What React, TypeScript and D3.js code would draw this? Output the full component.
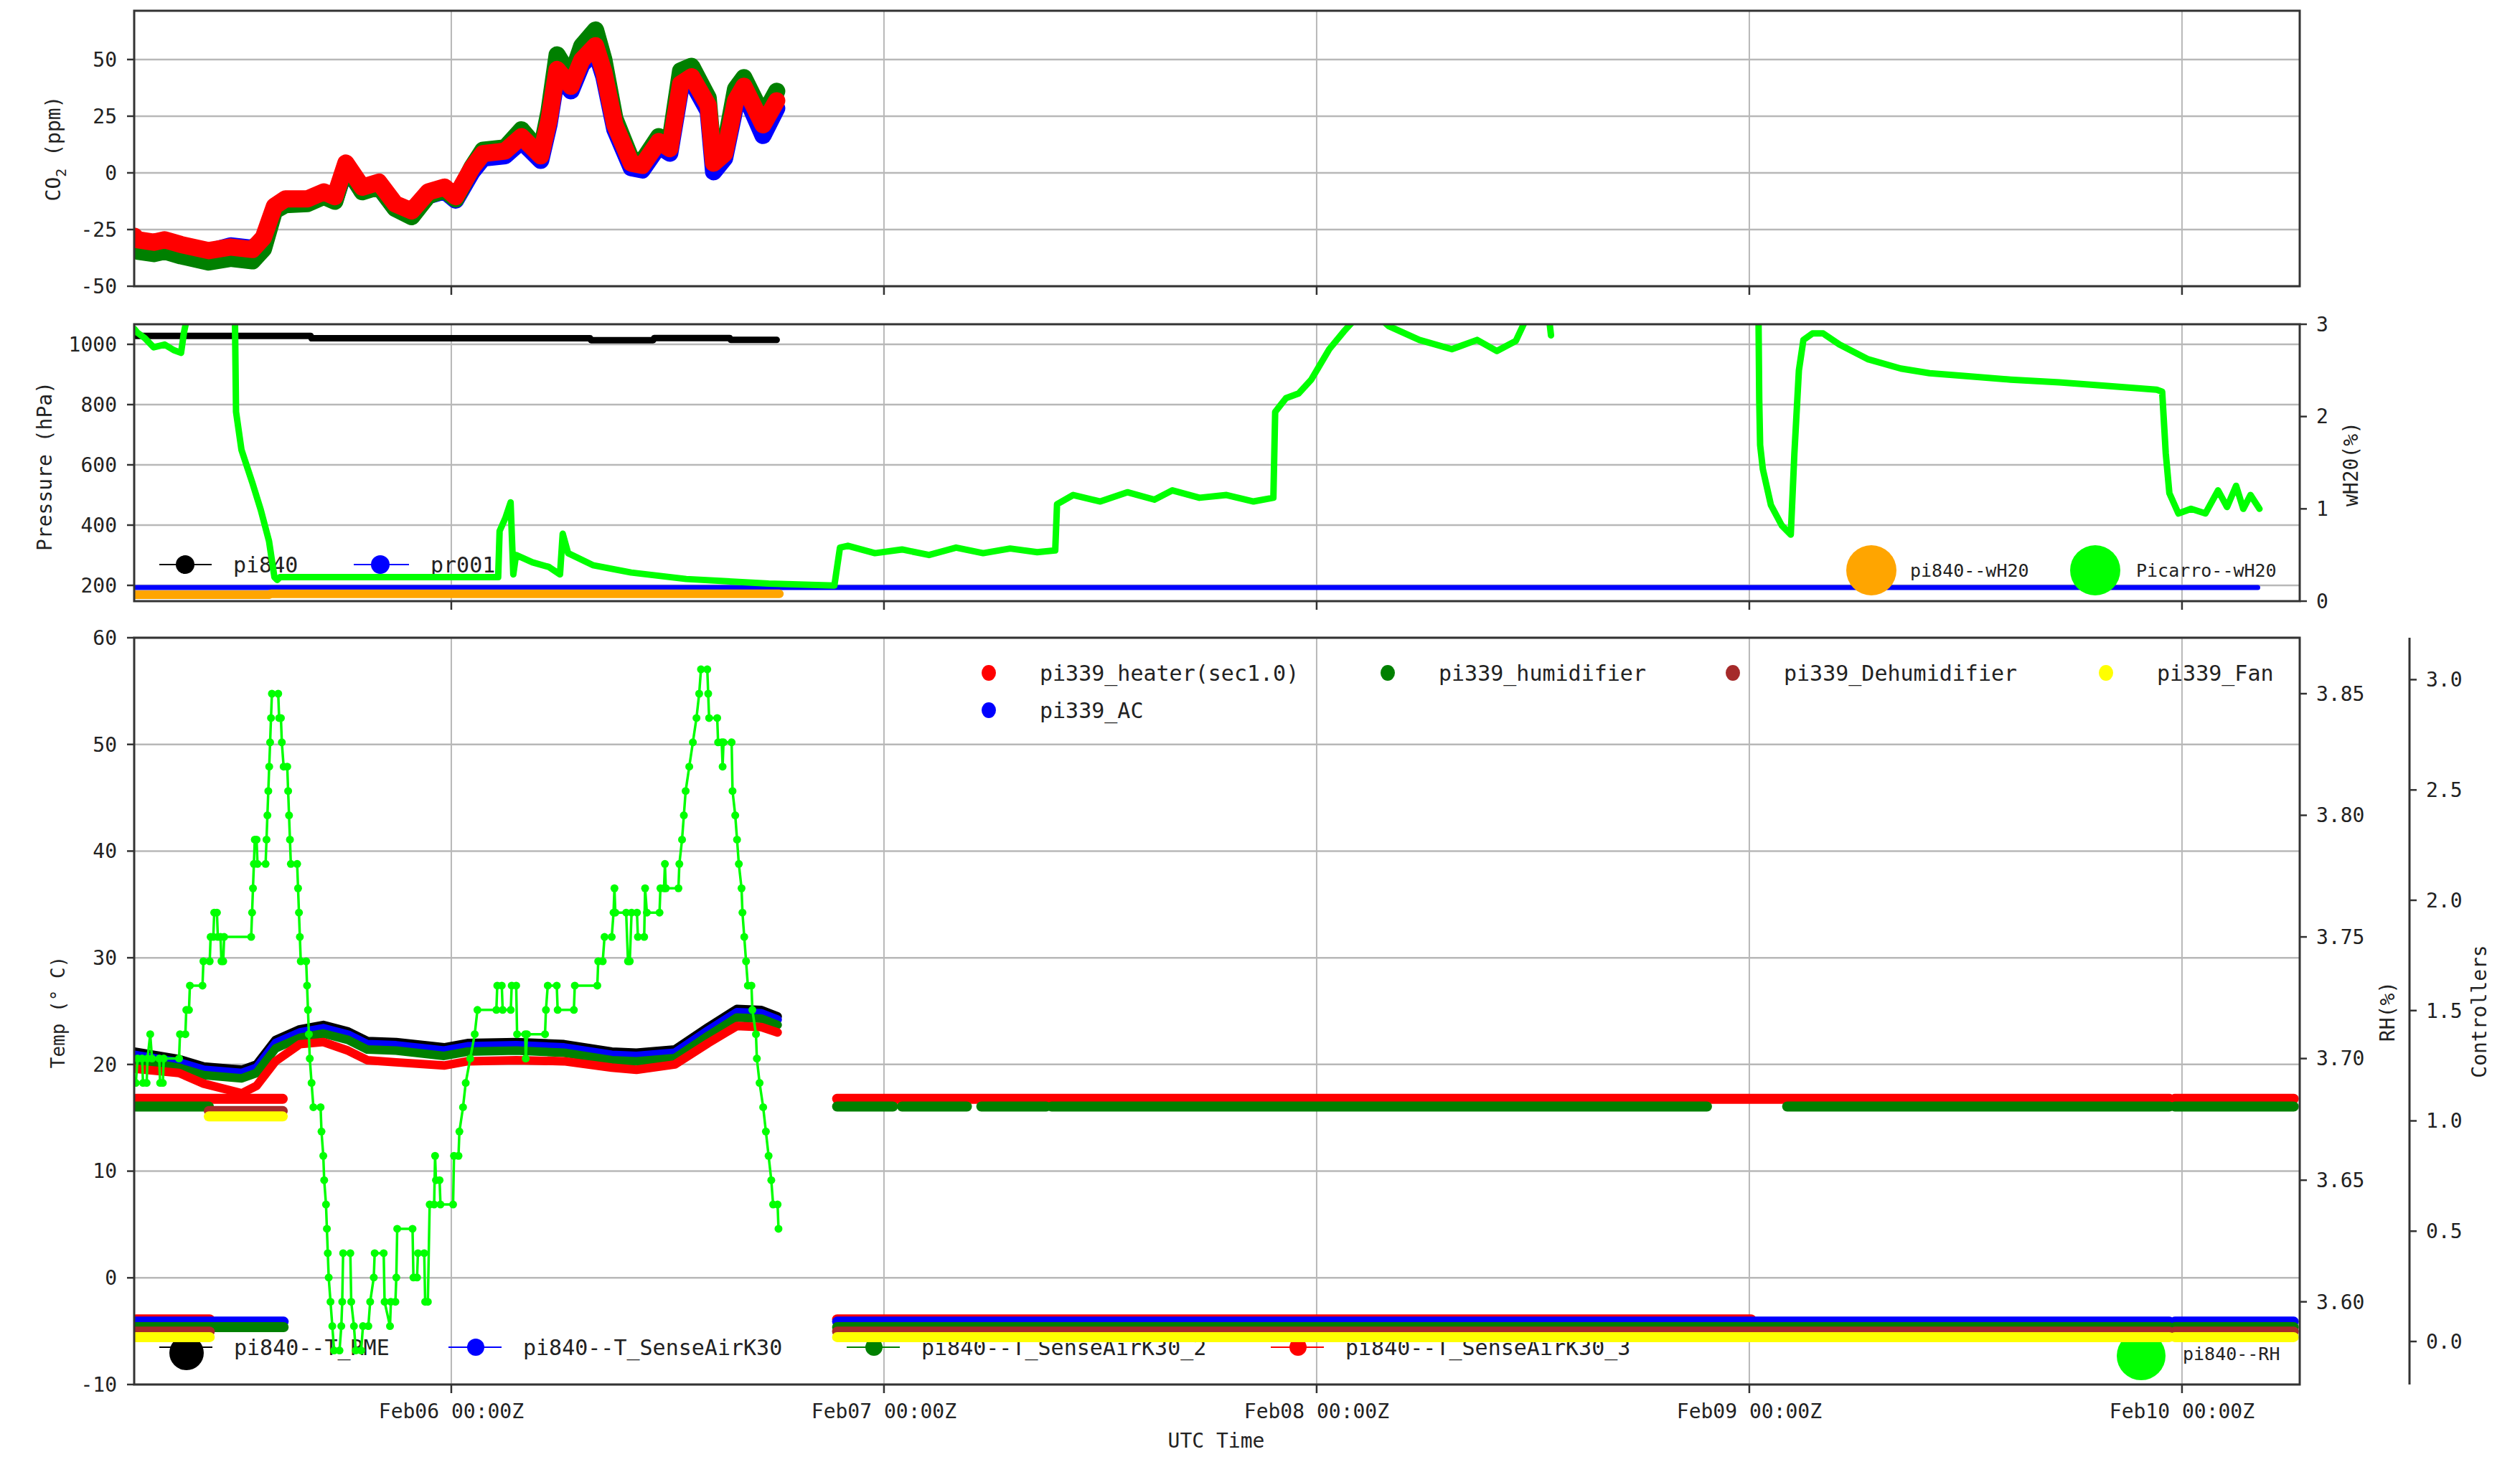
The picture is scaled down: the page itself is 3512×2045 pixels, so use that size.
import React from 'react';
import * as d3 from 'd3';

type Pt = [number, number]; // [hours since Feb05 00:00Z, value]
type Span = [number, number];

const FONT = "'DejaVu Sans Mono', 'Liberation Mono', monospace";
const W = 3512;
const H = 2045;
const X0 = 187;
const X1 = 3205;

const FEB05 = Date.UTC(2021, 1, 5);
const at = (h: number) => new Date(FEB05 + h * 3600 * 1000);

const timeRange: Span = [6.41, 126.53];
const dayTicks = [24, 48, 72, 96, 120];

// ---- CO2 panel ----
const co2Ticks = [-50, -25, 0, 25, 50];
const co2Hours = [6.43, 6.58, 7.49, 8.1, 9.0, 10.54, 11.75, 12.97, 13.58, 14.19, 14.8, 16.02, 16.93, 17.54, 18.15, 19.06, 19.98, 20.89, 21.8, 22.72, 23.63, 24.24, 25.15, 25.76, 26.98, 27.89, 28.96, 29.42, 29.87, 30.64, 31.24, 32.0, 32.46, 33.07, 33.98, 34.59, 35.51, 36.12, 36.72, 37.33, 38.25, 38.55, 39.16, 39.77, 40.23, 41.29, 42.05];
const co2Red = [-28, -29.5, -30.6, -29.5, -31.6, -34.3, -32.7, -33.8, -28.5, -14.7, -11.5, -11.5, -8.4, -10.5, 4.3, -6.3, -4.1, -13.7, -16.8, -8.4, -6.3, -10.5, 2.2, 8.5, 9.6, 16.0, 7.5, 23.3, 45.6, 38.2, 49.8, 56.1, 44.5, 21.2, 4.3, 3.3, 13.8, 10.7, 39.2, 42.4, 29.7, 4.3, 8.5, 31.8, 38.2, 21.2, 31.8];
const co2Green = [-33, -34.5, -35.6, -34.5, -36.6, -39.3, -37.7, -38.8, -33.5, -16.7, -14, -13.5, -10.4, -12.5, 3.5, -8.3, -6, -15.7, -19.3, -10, -7.5, -11.5, 2.5, 10, 11, 19, 9, 27, 52, 42, 56, 63, 50, 24, 6, 5, 16, 13, 45, 47, 33, 5, 11, 37, 42, 25, 36];
const co2Blue = [-29, -30.5, -31.6, -30.5, -32.6, -34.8, -32.2, -33.3, -29.5, -16.2, -13, -13, -10, -12, 2.5, -8, -6, -15.5, -18.5, -10, -8, -12, 0.5, 6.5, 7.6, 14, 5.5, 21.3, 43.6, 36.2, 47.8, 54, 42.5, 19.2, 2.3, 1.3, 11.8, 8.7, 37.2, 40.4, 27.2, 0.5, 6.5, 29.8, 35.7, 16.5, 28.5];

// ---- pressure / wH2O panel ----
const pressTicks = [200, 400, 600, 800, 1000];
const wh2oTicks = [0, 1, 2, 3];
const pressPi840: Pt[] = [[6.41, 1028], [16.2, 1028], [16.25, 1020], [31.7, 1020], [31.75, 1014], [35.2, 1014], [35.25, 1021], [39.45, 1021], [39.5, 1015], [42.05, 1015]];
const pressPr001: Pt[] = [[6.41, 193], [124.2, 193]];
const wh2oPi840: Pt[] = [[6.41, 0.07], [13.9, 0.07], [14.0, 0.08], [42.2, 0.08]];
const wh2oPicarro: Pt[] = [
  [6.41, 2.95], [6.58, 2.91], [7.0, 2.85], [7.49, 2.75], [8.1, 2.78], [8.6, 2.72], [9.01, 2.69], [9.17, 2.91], [9.32, 3.05], [10.69, 3.05], [12.0, 3.05],
  [12.06, 2.05], [12.36, 1.64], [12.97, 1.28], [13.43, 0.99], [13.89, 0.65], [14.19, 0.26], [14.34, 0.23], [14.5, 0.26], [26.6, 0.26],
  [26.68, 0.76], [27.0, 0.9], [27.29, 1.07], [27.44, 0.29], [27.59, 0.5], [28.5, 0.42], [29.42, 0.37], [30.03, 0.29], [30.18, 0.73], [30.48, 0.52],
  [31.85, 0.39], [33.98, 0.31], [37.03, 0.24], [41.6, 0.19], [45.25, 0.17], [45.56, 0.58],
  [46, 0.6], [47.5, 0.52], [49, 0.56], [50.5, 0.5], [52, 0.58], [53.5, 0.52], [55, 0.57], [56.5, 0.53], [57.5, 0.55],
  [57.6, 1.05], [58.5, 1.15], [60, 1.08], [61.5, 1.18], [63, 1.1], [64, 1.2], [65.5, 1.12], [67, 1.15], [68.5, 1.08], [69.6, 1.12],
  [69.7, 2.05], [70.3, 2.2], [71.0, 2.25], [71.7, 2.4], [72.7, 2.73], [73.5, 2.92], [74.1, 3.05], [75.6, 3.05], [76.0, 2.98], [77.7, 2.83],
  [79.5, 2.73], [80.9, 2.83], [82.0, 2.71], [83.05, 2.82], [83.6, 3.05], [84.9, 3.05], [85.0, 2.88],
  [90, NaN],
  [96.5, 3.3], [96.55, 2.18], [96.6, 1.69], [96.75, 1.43], [97.2, 1.04], [97.8, 0.82], [98.3, 0.72], [98.5, 1.6], [98.75, 2.5], [99.0, 2.83],
  [99.5, 2.9], [100.1, 2.9], [101, 2.78], [102.6, 2.62], [104.4, 2.52], [106, 2.47], [107.9, 2.44], [110.5, 2.4], [113.2, 2.37], [116, 2.33],
  [118.6, 2.29], [118.9, 2.27], [119.1, 1.6], [119.3, 1.17], [119.8, 0.95], [120.5, 1.0], [121.3, 0.95], [122.0, 1.2], [122.5, 1.02],
  [123.0, 1.25], [123.4, 1.0], [123.8, 1.15], [124.3, 1.0],
];

// ---- temperature / RH / controllers panel ----
const tempTicks = [-10, 0, 10, 20, 30, 40, 50, 60];
const rhTicks = [3.6, 3.65, 3.7, 3.75, 3.8, 3.85];
const ctrlTicks = [0, 0.5, 1, 1.5, 2, 2.5, 3];
const tempHours = [6.41, 8.9, 10.27, 12.38, 13.2, 14.25, 15.6, 16.9, 18.27, 19.34, 20.94, 23.6, 24.9, 27.6, 30.25, 32.9, 34.27, 36.4, 38.25, 39.84, 41.2, 42.1];
const tRME = [21.2, 20.5, 19.8, 19.5, 20.0, 22.3, 23.3, 23.7, 23.1, 22.2, 22.1, 21.6, 22.0, 22.1, 21.9, 21.2, 21.1, 21.4, 23.5, 25.2, 25.1, 24.5];
const tK30 = [20.9, 20.2, 19.5, 19.2, 19.7, 22.0, 23.0, 23.4, 22.8, 21.9, 21.8, 21.3, 21.7, 21.8, 21.6, 20.9, 20.8, 21.1, 23.2, 24.9, 24.8, 24.2];
const tK30_2 = [20.4, 19.7, 19.0, 18.7, 19.2, 21.5, 22.5, 22.9, 22.3, 21.4, 21.3, 20.8, 21.2, 21.3, 21.1, 20.4, 20.3, 20.6, 22.7, 24.4, 24.3, 23.7];
const tK30_3 = [19.6, 19.2, 18.2, 17.3, 18.0, 20.3, 21.9, 22.1, 21.3, 20.4, 20.2, 19.9, 20.3, 20.4, 20.3, 19.7, 19.5, 20.0, 22.0, 23.6, 23.5, 23.0];
const tempNames = ['pi840--T_RME', 'pi840--T_SenseAirK30', 'pi840--T_SenseAirK30_2', 'pi840--T_SenseAirK30_3'];
const tempColors = ['#000000', '#0000ff', '#008000', '#ff0000'];

const rhPi840: Pt[] = [
  [6.5, 3.69], [6.6, 3.70], [6.85, 3.70], [6.9, 3.69], [7.1, 3.69], [7.15, 3.70], [7.3, 3.71], [7.4, 3.70], [7.8, 3.70], [7.85, 3.69], [8.0, 3.69], [8.05, 3.70], [8.9, 3.70],
  [8.95, 3.71], [9.25, 3.71], [9.3, 3.72], [9.45, 3.72], [9.5, 3.73], [10.2, 3.73], [10.25, 3.74], [10.6, 3.74], [10.65, 3.75], [10.8, 3.75], [10.85, 3.76], [11.0, 3.76],
  [11.05, 3.75], [11.2, 3.75], [11.25, 3.74], [11.35, 3.74], [11.4, 3.75], [12.9, 3.75],
  [12.95, 3.76], [13.0, 3.77], [13.05, 3.78], [13.1, 3.79], [13.2, 3.79], [13.25, 3.78], [13.7, 3.78], [13.75, 3.79], [13.8, 3.80], [13.85, 3.81], [13.9, 3.82],
  [13.95, 3.83], [14.0, 3.84], [14.05, 3.85], [14.4, 3.85], [14.45, 3.84], [14.55, 3.84], [14.6, 3.83], [14.7, 3.82], [14.9, 3.82], [14.95, 3.81], [15.0, 3.80],
  [15.05, 3.79], [15.1, 3.78], [15.45, 3.78], [15.5, 3.77], [15.55, 3.76], [15.6, 3.75], [15.65, 3.74], [15.95, 3.74], [16.0, 3.73], [16.05, 3.72], [16.1, 3.71],
  [16.15, 3.70], [16.25, 3.69], [16.35, 3.68], [16.75, 3.68], [16.8, 3.67], [16.9, 3.66], [16.95, 3.65], [17.05, 3.64], [17.1, 3.63], [17.15, 3.62], [17.2, 3.61],
  [17.3, 3.60], [17.4, 3.59], [17.5, 3.58],
  [17.8, 3.58], [17.9, 3.59], [17.95, 3.60], [18.0, 3.62], [18.4, 3.62], [18.45, 3.60], [18.6, 3.59], [18.7, 3.58], [19.0, 3.58], [19.1, 3.59], [19.4, 3.59],
  [19.5, 3.60], [19.7, 3.61], [19.75, 3.62], [20.25, 3.62], [20.3, 3.60], [20.6, 3.59], [20.65, 3.60], [20.9, 3.60], [20.95, 3.61], [21.0, 3.63], [21.85, 3.63],
  [21.9, 3.61], [22.1, 3.61], [22.15, 3.62], [22.5, 3.62], [22.55, 3.60], [22.7, 3.60], [22.8, 3.64], [23.05, 3.64], [23.1, 3.66], [23.15, 3.65], [23.35, 3.65],
  [23.4, 3.64], [24.1, 3.64], [24.15, 3.66], [24.4, 3.66], [24.45, 3.67], [24.65, 3.68], [24.8, 3.69], [25.05, 3.70], [25.3, 3.71], [25.45, 3.72], [26.5, 3.72],
  [26.55, 3.73], [26.8, 3.73], [26.85, 3.72], [27.3, 3.72], [27.35, 3.73], [27.6, 3.73], [27.65, 3.71], [28.1, 3.71], [28.13, 3.70], [28.2, 3.71], [29.2, 3.71],
  [29.25, 3.72], [29.35, 3.73], [29.85, 3.73], [29.9, 3.72], [30.8, 3.72], [30.85, 3.73], [32.1, 3.73], [32.15, 3.74], [32.4, 3.74], [32.5, 3.75], [32.9, 3.75],
  [33.0, 3.76], [33.05, 3.77], [33.1, 3.76], [33.7, 3.76], [33.8, 3.74], [33.9, 3.74], [34.0, 3.76], [34.3, 3.76], [34.35, 3.75], [34.7, 3.75], [34.75, 3.77],
  [34.85, 3.76], [35.55, 3.76], [35.6, 3.77], [35.8, 3.77], [35.85, 3.78], [35.9, 3.77], [36.6, 3.77], [36.65, 3.78], [36.8, 3.79], [36.9, 3.80], [37.0, 3.81],
  [37.2, 3.82], [37.4, 3.83], [37.6, 3.84], [37.75, 3.85], [37.85, 3.86], [38.2, 3.86], [38.25, 3.85], [38.3, 3.84], [38.75, 3.84], [38.8, 3.83], [39.0, 3.83],
  [39.05, 3.82], [39.1, 3.83], [39.55, 3.83], [39.6, 3.81], [39.75, 3.80], [39.85, 3.79], [39.95, 3.78], [40.1, 3.77], [40.15, 3.76], [40.25, 3.75], [40.35, 3.74],
  [40.45, 3.73], [40.65, 3.73], [40.7, 3.72], [40.9, 3.71], [40.95, 3.70], [41.1, 3.69], [41.3, 3.68], [41.45, 3.67], [41.6, 3.66], [41.75, 3.65], [41.85, 3.64],
  [42.1, 3.64], [42.15, 3.63],
];

const ctrlNames = ['pi339_heater(sec1.0)', 'pi339_AC', 'pi339_humidifier', 'pi339_Dehumidifier', 'pi339_Fan'];
const ctrlColors = ['#ff0000', '#0000ff', '#008000', '#a52a2a', '#ffff00'];
const ctrlOffsets = [0.1, 0.09, 0.065, 0.045, 0.02];
// time spans (hours) where each controller reports state 1 ("on") or 0 ("off")
const ctrlOn: Span[][] = [
  [[6.5, 14.65], [45.4, 119.3], [119.6, 126.2]],
  [],
  [[6.5, 10.55], [45.4, 48.5], [49.0, 52.6], [53.4, 57.0], [57.3, 93.65], [98.1, 119.3], [119.6, 126.2]],
  [[10.55, 14.65]],
  [[10.55, 14.65]],
];
const ctrlOff: Span[][] = [
  [[6.5, 10.6], [45.4, 96.1]],
  [[6.5, 14.7], [45.4, 119.3], [119.6, 126.2]],
  [[6.5, 14.7], [45.4, 119.3], [119.6, 126.2]],
  [[6.5, 10.6], [45.4, 119.3], [119.6, 126.2]],
  [[6.5, 10.6], [45.4, 119.3], [119.6, 126.2]],
];

const zip = (hs: number[], vs: number[]): Pt[] => hs.map((h, i) => [h, vs[i]]);

export default function App() {
  const x = d3.scaleUtc().domain([at(timeRange[0]), at(timeRange[1])]).range([X0, X1]);
  const px = (h: number) => x(at(h));
  const fmt = d3.utcFormat('%b%d %H:%MZ');

  const P1 = { top: 15, bottom: 399 };
  const P2 = { top: 452, bottom: 838 };
  const P3 = { top: 889, bottom: 1930 };

  const yCo2 = d3.scaleLinear().domain([-50, 71.5]).range([P1.bottom, P1.top]);
  const yPress = d3.scaleLinear().domain([147.6, 1066.7]).range([P2.bottom, P2.top]);
  const yWh2o = d3.scaleLinear().domain([0, 3]).range([P2.bottom, P2.top]);
  const yTemp = d3.scaleLinear().domain([-10, 60]).range([P3.bottom, P3.top]);
  const yRh = d3.scaleLinear().domain([3.566, 3.873]).range([P3.bottom, P3.top]);
  const yCtrl = d3.scaleLinear().domain([-0.195, 3.19]).range([P3.bottom, P3.top]);

  const path = (data: Pt[], y: d3.ScaleLinear<number, number>) =>
    d3
      .line<Pt>()
      .defined((d) => Number.isFinite(d[1]))
      .x((d) => px(d[0]))
      .y((d) => y(d[1]))(data) ?? '';

  const grid = (p: { top: number; bottom: number }, ticks: number[], y: d3.ScaleLinear<number, number>) => (
    <g>
      {ticks.map((v) => (
        <line key={'h' + v} x1={X0} x2={X1} y1={y(v)} y2={y(v)} stroke="#b8b8b8" strokeWidth={2.5} />
      ))}
      {dayTicks.map((d) => (
        <line key={'v' + d} x1={px(d)} x2={px(d)} y1={p.top} y2={p.bottom} stroke="#b8b8b8" strokeWidth={2} />
      ))}
    </g>
  );

  const frame = (p: { top: number; bottom: number }) => (
    <g>
      <rect x={X0} y={p.top} width={X1 - X0} height={p.bottom - p.top} fill="none" stroke="#333" strokeWidth={3} />
      {dayTicks.map((d) => (
        <line key={d} x1={px(d)} x2={px(d)} y1={p.bottom} y2={p.bottom + 12} stroke="#333" strokeWidth={2.5} />
      ))}
    </g>
  );

  const leftAxis = (ticks: number[], y: d3.ScaleLinear<number, number>, f: (v: number) => string) => (
    <g>
      {ticks.map((v) => (
        <g key={v}>
          <line x1={X0 - 10} x2={X0} y1={y(v)} y2={y(v)} stroke="#333" strokeWidth={2.5} />
          <text x={163} y={y(v)} dy="0.35em" textAnchor="end" fontSize={28} fill="#222">
            {f(v)}
          </text>
        </g>
      ))}
    </g>
  );

  const rightAxis = (ax: number, ticks: number[], y: d3.ScaleLinear<number, number>, f: (v: number) => string, lx: number) => (
    <g>
      {ticks.map((v) => (
        <g key={v}>
          <line x1={ax} x2={ax + 10} y1={y(v)} y2={y(v)} stroke="#333" strokeWidth={2.5} />
          <text x={lx} y={y(v)} dy="0.35em" textAnchor="start" fontSize={28} fill="#222">
            {f(v)}
          </text>
        </g>
      ))}
    </g>
  );

  const vLabel = (cx: number, cy: number, content: React.ReactNode, size = 28) => (
    <text transform={`translate(${cx},${cy}) rotate(-90)`} textAnchor="middle" dy="0.35em" fontSize={size} fill="#222">
      {content}
    </text>
  );

  const tempSeries = [tRME, tK30, tK30_2, tK30_3].map((vs) => zip(tempHours, vs));

  // legend layout (matplotlib ncol=4, column-major)
  const ctrlLegCol = [0, 0, 1, 2, 3];
  const ctrlLegRow = [0, 1, 0, 0, 0];
  const ctrlLegX = [1378, 1934, 2415, 2935];
  const tempLegX = [260, 663, 1218, 1809];

  return (
    <svg width={W} height={H} style={{ position: 'absolute', left: 0, top: 0, background: '#fff' }} fontFamily={FONT}>
      <defs>
        <clipPath id="c1"><rect x={X0} y={P1.top} width={X1 - X0} height={P1.bottom - P1.top} /></clipPath>
        <clipPath id="c2"><rect x={X0} y={P2.top} width={X1 - X0} height={P2.bottom - P2.top} /></clipPath>
        <clipPath id="c3"><rect x={X0} y={P3.top} width={X1 - X0} height={P3.bottom - P3.top} /></clipPath>
      </defs>
      <rect width={W} height={H} fill="#fff" />

      {/* ---------- CO2 ---------- */}
      {grid(P1, co2Ticks, yCo2)}
      <g clipPath="url(#c1)" fill="none" strokeLinejoin="round" strokeLinecap="round">
        <path d={path(zip(co2Hours, co2Blue), yCo2)} stroke="#0000ff" strokeWidth={24} />
        <path d={path(zip(co2Hours, co2Green), yCo2)} stroke="#008000" strokeWidth={24} />
        <path d={path(zip(co2Hours, co2Red), yCo2)} stroke="#ff0000" strokeWidth={24} />
      </g>
      {frame(P1)}
      {leftAxis(co2Ticks, yCo2, (v) => String(v))}
      {vLabel(74, 207, <>CO<tspan fontSize={20} dy={8}>2</tspan><tspan dy={-8}> (ppm)</tspan></>)}

      {/* ---------- pressure / wH2O ---------- */}
      {grid(P2, pressTicks, yPress)}
      <g clipPath="url(#c2)" fill="none" strokeLinejoin="round" strokeLinecap="round">
        <path d={path(pressPi840, yPress)} stroke="#000" strokeWidth={9} />
        <path d={path(pressPr001, yPress)} stroke="#0000ff" strokeWidth={7} />
      </g>
      <g fontSize={30} fill="#222">
        <line x1={222} x2={295} y1={787} y2={787} stroke="#000" strokeWidth={2} />
        <circle cx={258} cy={787} r={13} fill="#000" />
        <text x={325} y={787} dy="0.35em">pi840</text>
        <line x1={493} x2={570} y1={787} y2={787} stroke="#0000ff" strokeWidth={2} />
        <circle cx={530} cy={787} r={13} fill="#0000ff" />
        <text x={600} y={787} dy="0.35em">pr001</text>
      </g>
      <g clipPath="url(#c2)" fill="none" strokeLinejoin="round" strokeLinecap="round">
        <path d={path(wh2oPi840, yWh2o)} stroke="#ffa500" strokeWidth={12} />
        <path d={path(wh2oPicarro, yWh2o)} stroke="#00ff00" strokeWidth={9} />
      </g>
      <g fontSize={25} fill="#222">
        <circle cx={2608} cy={795} r={35} fill="#ffa500" />
        <text x={2662} y={795} dy="0.35em">pi840--wH20</text>
        <circle cx={2920} cy={795} r={35} fill="#00ff00" />
        <text x={2977} y={795} dy="0.35em">Picarro--wH20</text>
      </g>
      {frame(P2)}
      {leftAxis(pressTicks, yPress, (v) => String(v))}
      {rightAxis(X1, wh2oTicks, yWh2o, (v) => String(v), 3228)}
      {vLabel(62, 650, 'Pressure (hPa)')}
      {vLabel(3276, 647, 'wH20(%)')}

      {/* ---------- temperature / RH / controllers ---------- */}
      {grid(P3, tempTicks, yTemp)}
      <g clipPath="url(#c3)" fill="none" strokeLinejoin="round" strokeLinecap="round">
        {tempSeries.map((s, i) => (
          <path key={i} d={path(s, yTemp)} stroke={tempColors[i]} strokeWidth={12} />
        ))}
      </g>
      <g fontSize={30} fill="#222">
        {tempNames.map((n, i) => (
          <g key={n}>
            <line x1={tempLegX[i] - 38} x2={tempLegX[i] + 36} y1={1878} y2={1878} stroke={tempColors[i]} strokeWidth={2} />
            <circle cx={tempLegX[i]} cy={i === 0 ? 1886 : 1878} r={i === 0 ? 24 : 12} fill={tempColors[i]} />
            <text x={tempLegX[i] + 66} y={1878} dy="0.35em">{n}</text>
          </g>
        ))}
      </g>
      <g clipPath="url(#c3)">
        <path d={path(rhPi840, yRh)} fill="none" stroke="#00ff00" strokeWidth={3.5} />
        {rhPi840.map((d, i) => (
          <circle key={i} cx={px(d[0])} cy={yRh(d[1])} r={5.5} fill="#00ff00" />
        ))}
      </g>
      <circle cx={2984} cy={1890} r={34} fill="#00ff00" />
      <text x={3042} y={1887} dy="0.35em" fontSize={25} fill="#222">pi840--RH</text>
      <g clipPath="url(#c3)" strokeLinecap="round">
        {ctrlNames.map((n, i) => (
          <g key={n}>
            {ctrlOff[i].map((s, j) => (
              <line key={'f' + j} x1={px(s[0])} x2={px(s[1])} y1={yCtrl(ctrlOffsets[i])} y2={yCtrl(ctrlOffsets[i])} stroke={ctrlColors[i]} strokeWidth={14} />
            ))}
            {ctrlOn[i].map((s, j) => (
              <line key={'n' + j} x1={px(s[0])} x2={px(s[1])} y1={yCtrl(1 + ctrlOffsets[i])} y2={yCtrl(1 + ctrlOffsets[i])} stroke={ctrlColors[i]} strokeWidth={14} />
            ))}
          </g>
        ))}
      </g>
      <g fontSize={30} fill="#222">
        {ctrlNames.map((n, i) => {
          const lx = ctrlLegX[ctrlLegCol[i]];
          const ly = 938 + ctrlLegRow[i] * 52;
          return (
            <g key={n}>
              <ellipse cx={lx} cy={ly} rx={10} ry={11} fill={ctrlColors[i]} />
              <text x={lx + 71} y={ly} dy="0.35em">{n}</text>
            </g>
          );
        })}
      </g>
      {frame(P3)}
      {leftAxis(tempTicks, yTemp, (v) => String(v))}
      {rightAxis(X1, rhTicks, yRh, (v) => v.toFixed(2), 3228)}
      <line x1={3358} x2={3358} y1={P3.top} y2={P3.bottom} stroke="#333" strokeWidth={3} />
      {rightAxis(3358, ctrlTicks, yCtrl, (v) => v.toFixed(1), 3381)}
      {vLabel(81, 1411, 'Temp (° C)', 26)}
      {vLabel(3327, 1410, 'RH(%)')}
      {vLabel(3455, 1410, 'Controllers')}

      {/* x axis labels */}
      <g fontSize={28} fill="#222" textAnchor="middle">
        {dayTicks.map((d) => (
          <text key={d} x={px(d)} y={1967} dy="0.35em">{fmt(at(d))}</text>
        ))}
        <text x={1695} y={2008} dy="0.35em">UTC Time</text>
      </g>
    </svg>
  );
}
